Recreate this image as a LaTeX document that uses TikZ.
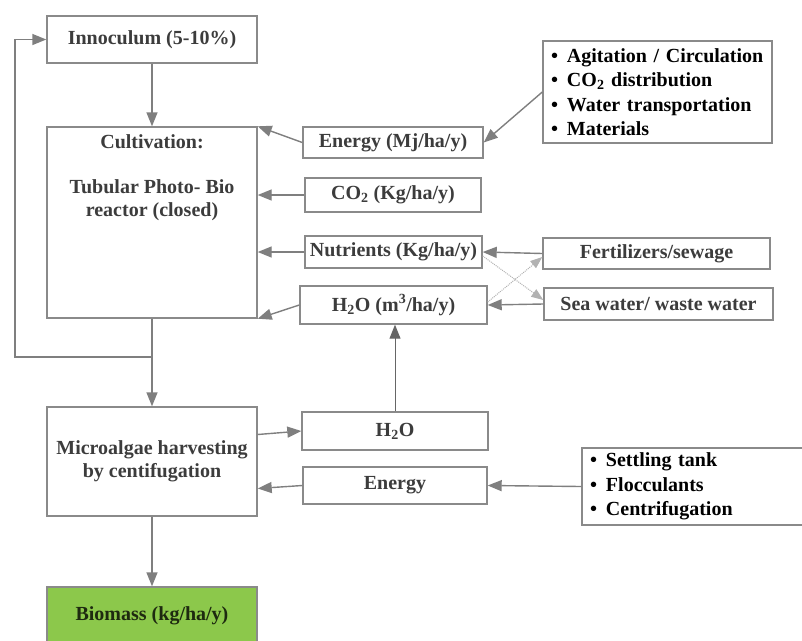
\documentclass[tikz,border=0pt]{standalone}
\usepackage{fontspec}
\setmainfont{Liberation Serif}
\usepackage{tikz}
\usetikzlibrary{arrows.meta}
\definecolor{boxline}{HTML}{8A8A8A}
\definecolor{flowline}{HTML}{7F7F7F}
\definecolor{boxtext}{HTML}{3C3C3C}
\definecolor{biomassgreen}{HTML}{8CC84B}
\definecolor{biomasstext}{HTML}{1E2A10}
\newcommand{\boxfont}{\fontsize{20}{23}\selectfont\bfseries}
\newcommand{\itm}[1]{\makebox[16pt][l]{\textbullet}#1}

\begin{document}
\begin{tikzpicture}[x=1pt, y=-1pt,
    stage/.style={rectangle, draw=boxline, line width=1.4pt, fill=#1, minimum width=210pt, align=center, text=boxtext, font=\boxfont},
    stage/.default=white,
    input/.style={rectangle, draw=boxline, line width=1.4pt, fill=white, minimum width=#1, inner sep=2pt, text=boxtext, font=\boxfont},
    itemlist/.style={rectangle, draw=boxline, line width=1.4pt, fill=white, text width=#1, inner xsep=8pt, align=left, text=black, font=\fontsize{20}{24.5}\selectfont\bfseries},
    flow/.style={draw=flowline, line width=1.4pt, -{Triangle[length=14pt,width=11pt]}},
    swap/.style={draw=flowline!60, line width=1pt, densely dotted, -{Triangle[length=12pt,width=9pt]}}
]
\useasboundingbox (0,0) rectangle (802,640);
\clip (0,0) rectangle (802,640);

\node[stage, minimum height=47pt] (inoc) at (152,39.5) {Innoculum (5-10\%)};
\node[stage, minimum height=191pt] (cult) at (152,222.5) {};
\node[anchor=north, align=center, text=boxtext, font=\boxfont] (cultxt) at ([yshift=-5pt]cult.north) {Cultivation:\\[22pt]Tubular Photo- Bio\\reactor (closed)};
\node[stage, minimum height=109pt] (harv) at (152,461.5) {Microalgae harvesting\\by centifugation};
\node[stage=biomassgreen, minimum height=58pt, text=biomasstext] (bio) at (152,616) {Biomass (kg/ha/y)};

\node[input=180pt, minimum height=31pt] (enA) at (393,142.5) {Energy (Mj/ha/y)};
\node[input=176pt, minimum height=34pt] (co2) at (393,195) {CO\textsubscript{2} (Kg/ha/y)};
\node[input=177pt, minimum height=32pt] (nutr) at (393.5,252) {Nutrients (Kg/ha/y)};
\node[input=187pt, minimum height=38pt] (h2oA) at (393.5,305) {H\textsubscript{2}O (m\textsuperscript{3}/ha/y)};
\node[input=186pt, minimum height=38pt] (h2oB) at (395,431) {H\textsubscript{2}O};
\node[input=184pt, minimum height=37pt] (enB) at (395,485.5) {Energy};

\node[itemlist=213pt, minimum height=102pt] (list1) at (657.5,92) {\itm{Agitation / Circulation}\\\itm{CO\textsubscript{2} distribution}\\\itm{Water transportation}\\\itm{Materials}};
\node[input=227pt, minimum height=31pt] (fert) at (656.5,253.5) {Fertilizers/sewage};
\node[input=229pt, minimum height=32pt] (sea) at (658.5,304) {Sea water/ waste water};
\node[itemlist=214pt, minimum height=77pt] (list2) at (697,486.5) {\itm{Settling tank}\\\itm{Flocculants}\\\itm{Centrifugation}};

\coordinate (loop) at (15,357);

\draw[flow] (inoc) -- (cult);
\draw[flow] (cult) -- (harv);
\draw[flow] (harv) -- (bio);
\draw[flow] (cult.south |- loop) -- (loop) |- (inoc.west);

\draw[flow] (enA.west) -- (cult.north east);
\draw[flow] (co2.west) -- (co2.west -| cult.east);
\draw[flow] (nutr.west) -- (nutr.west -| cult.east);
\draw[flow] (h2oA.west) -- (cult.south east);
\draw[flow] (list1.west) -- (enA.east);
\draw[flow] (fert.west) -- (nutr.east);
\draw[flow] (sea.west) -- (h2oA.east);
\draw[swap] ([yshift=-4pt]nutr.east) -- ([yshift=4pt]sea.west);
\draw[swap] ([yshift=3pt]h2oA.east) -- ([yshift=-3.5pt]fert.west);

\draw[flow, line width=1pt, draw=flowline!80!black] (h2oB.north) -- (h2oB.north |- h2oA.south);
\draw[flow] ([yshift=27pt]harv.east) -- (h2oB.west);
\draw[flow] (enB.west) -- ([yshift=-27pt]harv.east);
\draw[flow] (list2.west) -- (enB.east);

\end{tikzpicture}
\end{document}
